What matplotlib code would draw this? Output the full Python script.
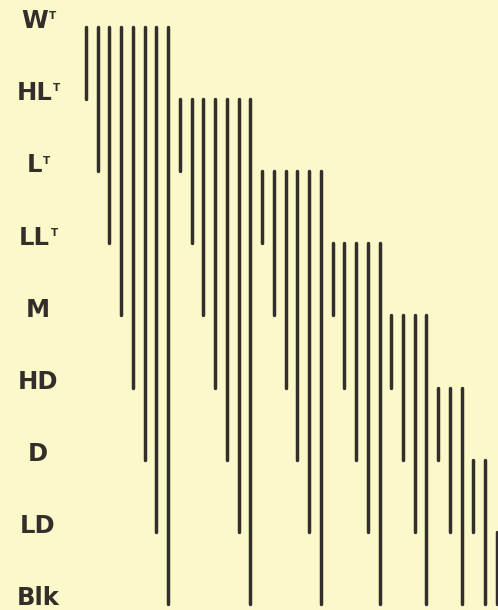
import matplotlib
matplotlib.use("Agg")
import matplotlib.pyplot as plt

# Tone scale, lightest at the top
levels = ["W", "HL", "L", "LL", "M", "HD", "D", "LD", "Blk"]
has_tint_mark = [True, True, True, True, False, False, False, False, False]

# Each vertical bar spans from one tone step down to another
bar_top = [0] * 8 + [1] * 7 + [2] * 6 + [3] * 5 + [4] * 4 + [5] * 3 + [6] * 2 + [7]
bar_bottom = (list(range(1, 9)) + list(range(2, 9)) + list(range(3, 9))
              + list(range(4, 9)) + list(range(5, 9)) + list(range(6, 9))
              + list(range(7, 9)) + [8])

W, H, DPI = 498, 610, 100
bg = "#fbf9c9"
ink = "#332e2b"

fig = plt.figure(figsize=(W / DPI, H / DPI), dpi=DPI, facecolor=bg)
ax = fig.add_axes([0, 0, 1, 1])
ax.set_facecolor(bg)
ax.axis("off")

# Map bar index / tone step onto the page
x0_px, dx_px = 86.0, 11.74
y0_px, dy_px = 27.0, 72.1
ax.set_xlim(-x0_px / dx_px, (W - x0_px) / dx_px)
ax.set_ylim((H - y0_px) / dy_px, -y0_px / dy_px)

xs = list(range(len(bar_top)))
ax.vlines(xs, bar_top, bar_bottom, colors=ink, linewidth=2.5,
          capstyle="round")

label_x = (38 - x0_px) / dx_px
for k, (name, tint) in enumerate(zip(levels, has_tint_mark)):
    t = ax.text(label_x - (0.3 if tint else 0), k - 0.08, name,
                ha="center", va="center", fontsize=17.5,
                fontweight="bold", color=ink, family="DejaVu Sans")
    if tint:
        ax.annotate("T", xy=(1, 1), xycoords=t, xytext=(0.5, -1.5),
                    textcoords="offset points", ha="left", va="top",
                    fontsize=7.5, fontweight="bold", color=ink,
                    family="DejaVu Sans")

fig.savefig("out.png", dpi=DPI, facecolor=bg)
